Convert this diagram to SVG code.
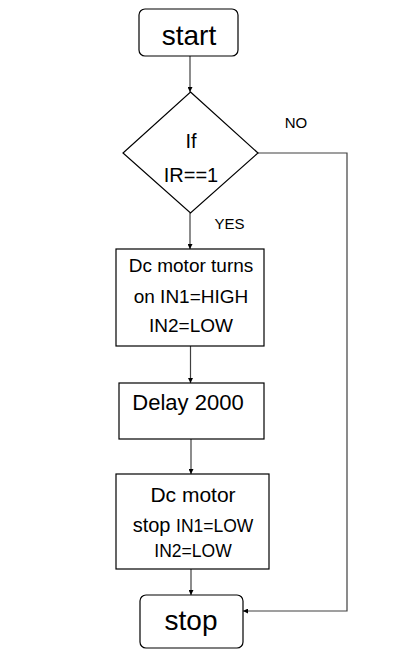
<svg xmlns="http://www.w3.org/2000/svg" width="417" height="659" viewBox="0 0 417 659">
<style>
.box{fill:#fff;stroke:#000;stroke-width:1.2}
.t{font-family:"Liberation Sans",Arial,sans-serif;fill:#000;text-anchor:middle}
.c{fill:none;stroke:#404040;stroke-width:1.2}
</style>
<defs>
<marker id="ah" viewBox="0 0 10 10" refX="10" refY="5" markerWidth="5" markerHeight="5" orient="auto" markerUnits="userSpaceOnUse"><path d="M0,0 L10,5 L0,10 z" fill="#000"/></marker>
</defs>
<rect width="417" height="659" fill="#fff"/>
<g id="connectors">
<line class="c" x1="190" y1="56" x2="190" y2="92" marker-end="url(#ah)"/>
<line class="c" x1="190" y1="213" x2="190" y2="249" marker-end="url(#ah)"/>
<line class="c" x1="190.5" y1="346" x2="190.5" y2="383" marker-end="url(#ah)"/>
<line class="c" x1="191" y1="439" x2="191" y2="474" marker-end="url(#ah)"/>
<line class="c" x1="191" y1="569" x2="191" y2="595" marker-end="url(#ah)"/>
<polyline class="c" points="258,153 347,153 347,611 243,611" marker-end="url(#ah)"/>
<text class="t" x="296" y="128" font-size="15">NO</text>
<text class="t" x="229.5" y="229" font-size="15">YES</text>
</g>
<g id="start">
<rect class="box" x="139" y="9" width="99" height="47" rx="6"/>
<text class="t" x="189" y="45" font-size="28">start</text>
</g>
<g id="decision">
<polygon class="box" points="190.5,92 258,153 190.5,213 123,153"/>
<text class="t" x="191" y="148" font-size="20">If</text>
<text class="t" x="191" y="182" font-size="20">IR==1</text>
</g>
<g id="motor-on">
<rect class="box" x="116" y="249" width="148" height="97"/>
<text class="t" x="191" y="272" font-size="19">Dc motor turns</text>
<text class="t" x="191" y="303" font-size="19">on IN1=HIGH</text>
<text class="t" x="191" y="332" font-size="19">IN2=LOW</text>
</g>
<g id="delay">
<rect class="box" x="119" y="383" width="145" height="56"/>
<text class="t" x="188" y="410" font-size="22">Delay 2000</text>
</g>
<g id="motor-stop">
<rect class="box" x="116" y="474" width="153" height="95"/>
<text class="t" x="193" y="502" font-size="21">Dc motor</text>
<text class="t" x="193" y="532"><tspan font-size="20">stop </tspan><tspan font-size="17.5">IN1=LOW</tspan></text>
<text class="t" x="193" y="557" font-size="17.5">IN2=LOW</text>
</g>
<g id="stop">
<rect class="box" x="140" y="595" width="103" height="53" rx="6"/>
<text class="t" x="191" y="630" font-size="28">stop</text>
</g>
</svg>
